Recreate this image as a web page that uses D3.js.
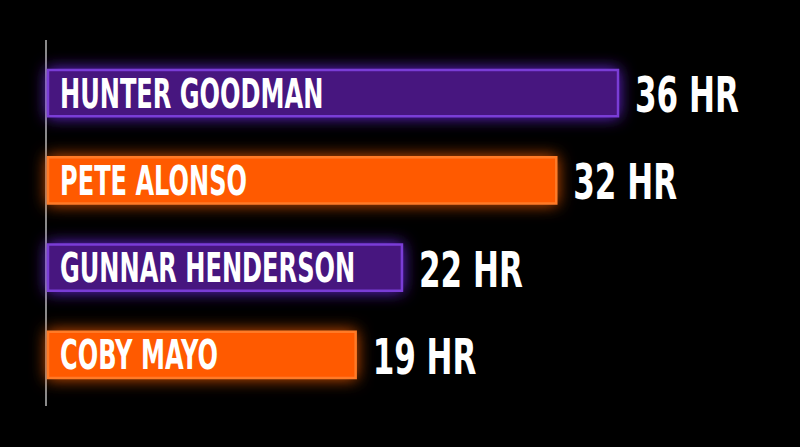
<!DOCTYPE html>
<html><head><meta charset="utf-8">
<script src="https://cdn.jsdelivr.net/npm/d3@7"></script>
<style>
html,body{margin:0;padding:0;background:#000;}
svg{display:block;}
</style></head>
<body>
<script>
const players = ["HUNTER GOODMAN","PETE ALONSO","GUNNAR HENDERSON","COBY MAYO"];
const homeRuns = [36,32,22,19];
const unitLabel = "HR";
const barColors = ["purple","orange","purple","orange"];

const W = 800, H = 447;
const svg = d3.select("body").append("svg").attr("width",W).attr("height",H);
svg.append("rect").attr("width",W).attr("height",H).attr("fill","#000");

const palette = {
  purple:{fill:"#46167f", edge:"#7a3cd6", glow:"#7a2cff"},
  orange:{fill:"#ff5a00", edge:"#ff7a26", glow:"#ff6000"}
};

const defs = svg.append("defs");
Object.entries(palette).forEach(([k,c])=>{
  const f = defs.append("filter").attr("id","glow-"+k)
    .attr("x","-20%").attr("y","-80%").attr("width","140%").attr("height","260%");
  f.append("feGaussianBlur").attr("in","SourceAlpha").attr("stdDeviation",8).attr("result","b");
  f.append("feFlood").attr("flood-color",c.glow).attr("flood-opacity",0.85).attr("result","c");
  f.append("feComposite").attr("in","c").attr("in2","b").attr("operator","in").attr("result","g");
  const m = f.append("feMerge");
  m.append("feMergeNode").attr("in","g");
  m.append("feMergeNode").attr("in","SourceGraphic");
});

const x = d3.scaleLinear().domain([-1,36]).range([47,618]);
// axis line
svg.append("line").attr("x1",46).attr("x2",46).attr("y1",40).attr("y2",406)
  .attr("stroke","#8a8a8a").attr("stroke-width",2);

const data = players.map((p,i)=>({name:p,v:homeRuns[i],c:barColors[i]}));
const yb = d3.scaleBand().domain(players).range([70,378]).paddingInner(0.47);

const g = svg.selectAll("g.bar").data(data).join("g").attr("class","bar");
g.append("rect")
  .attr("x",x(-1)+1).attr("y",d=>yb(d.name))
  .attr("width",d=>x(d.v)-x(-1)-1).attr("height",yb.bandwidth())
  .attr("fill",d=>palette[d.c].fill)
  .attr("stroke",d=>palette[d.c].edge).attr("stroke-width",2.5)
  .attr("filter",d=>"url(#glow-"+d.c+")");

const fontFam = "'DejaVu Sans Condensed','Liberation Sans',sans-serif";
g.append("text")
  .attr("transform",d=>`translate(60,${yb(d.name)+yb.bandwidth()/2+14.5}) scale(0.67,1)`)
  .attr("font-family",fontFam).attr("font-weight","bold").attr("font-size",40)
  .attr("fill","#fff").text(d=>d.name);
g.append("text")
  .attr("transform",d=>`translate(${x(d.v)+17},${yb(d.name)+yb.bandwidth()/2+19}) scale(0.69,1)`)
  .attr("font-family",fontFam).attr("font-weight","bold").attr("font-size",50)
  .attr("fill","#fff").text(d=>d.v+" "+unitLabel);
</script>
</body></html>
